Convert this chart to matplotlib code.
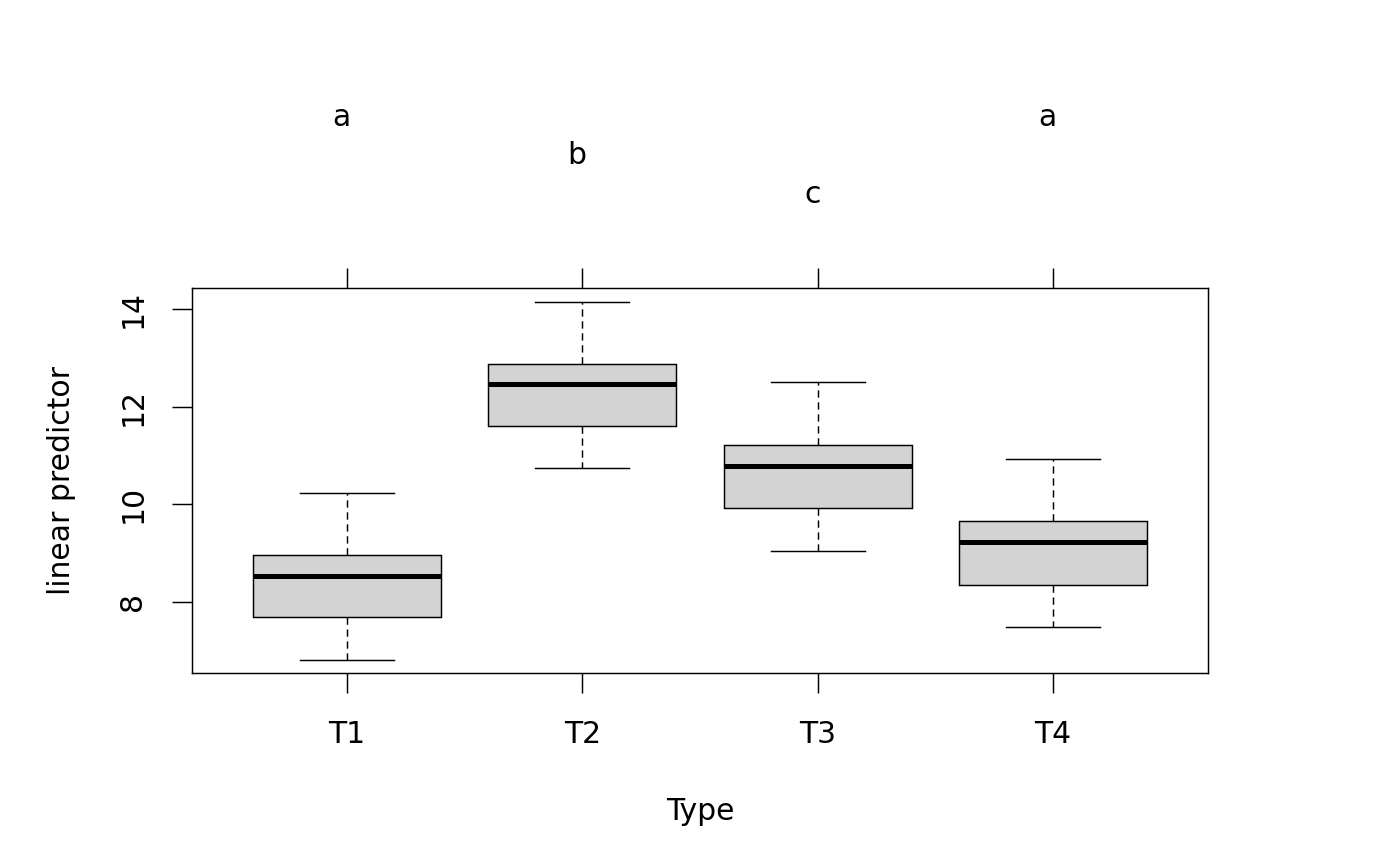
import matplotlib
matplotlib.use('Agg')
import matplotlib.pyplot as plt
from matplotlib.transforms import blended_transform_factory, offset_copy

plt.rcParams['font.family'] = ['DejaVu Sans']

# --- data ---
types = ['T1', 'T2', 'T3', 'T4']
whisk_lo = [6.81, 10.74, 9.05, 7.49]
q1 = [7.68, 11.61, 9.92, 8.35]
medians = [8.52, 12.46, 10.78, 9.22]
q3 = [8.96, 12.88, 11.21, 9.65]
whisk_hi = [10.24, 14.16, 12.51, 10.93]
letters = ['a', 'b', 'c', 'a']
letter_y = [1.443, 1.345, 1.244, 1.443]   # axes fraction

FS = 21.5
LW = 1.05

fig = plt.figure(figsize=(14, 8.66), dpi=100)
ax = fig.add_axes([0.1371, 0.2225, 0.7258, 0.4449])

stats = []
for i, t in enumerate(types):
    stats.append(dict(label=t, whislo=whisk_lo[i], q1=q1[i], med=medians[i],
                      q3=q3[i], whishi=whisk_hi[i], fliers=[]))

pos = list(range(1, len(types) + 1))
ax.bxp(stats, positions=pos, widths=0.8, patch_artist=True, showfliers=False,
       boxprops=dict(facecolor='#d3d3d3', edgecolor='black', linewidth=LW),
       medianprops=dict(color='black', linewidth=3.6, solid_capstyle='butt'),
       whiskerprops=dict(color='black', linewidth=LW, linestyle=(0, (5, 3.2))),
       capprops=dict(color='black', linewidth=LW),
       capwidths=0.4)

ax.set_xlim(0.34, 4.66)
ax.set_ylim(6.53, 14.44)
ax.set_xticks(pos)
ax.set_xticklabels(types)
ax.set_yticks([8, 10, 12, 14])
ax.set_yticklabels(['8', '10', '12', '14'], rotation=90, va='center')

ax.tick_params(axis='both', direction='out', length=14.4, width=LW,
               labelsize=FS)
ax.tick_params(axis='x', top=True, pad=19.4)
ax.tick_params(axis='y', pad=17.8)
for sp in ax.spines.values():
    sp.set_linewidth(LW)

ax.set_xlabel('Type', fontsize=FS, labelpad=34.5)
ax.set_ylabel('linear predictor', fontsize=FS, labelpad=30.6)

trans = blended_transform_factory(ax.transData, ax.transAxes)
trans = offset_copy(trans, fig=fig, x=-5.5, y=0, units='dots')
for i, lab in enumerate(letters):
    ax.text(pos[i], letter_y[i], lab, transform=trans, ha='center', va='center',
            fontsize=FS, clip_on=False)

fig.savefig('out.png', dpi=100)
